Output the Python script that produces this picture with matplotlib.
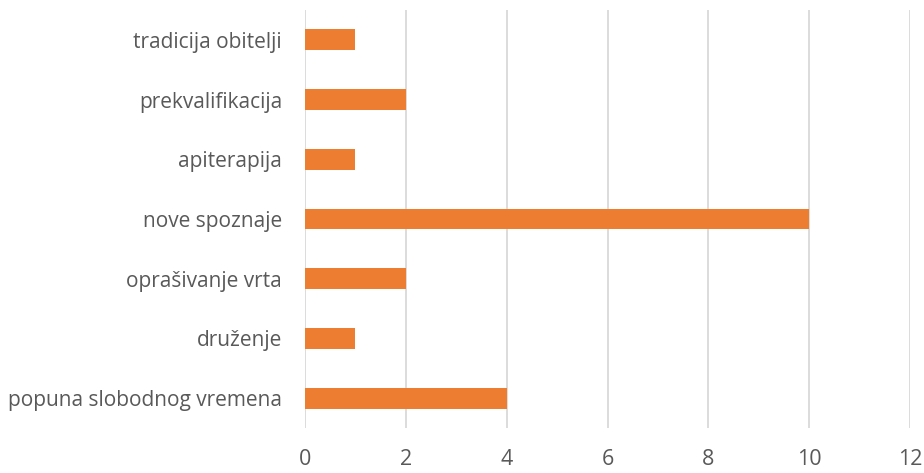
import matplotlib.pyplot as plt
import numpy as np

# Categories listed bottom to top, as drawn on the chart
CATEGORIES = [
    "popuna slobodnog vremena",
    "druženje",
    "oprašivanje vrta",
    "nove spoznaje",
    "apiterapija",
    "prekvalifikacija",
    "tradicija obitelji",
]
VALUES = [4, 1, 2, 10, 1, 2, 1]
X_TICKS = [0, 2, 4, 6, 8, 10, 12]

BAR_COLOR = "#ED7D31"
GRID_COLOR = "#D9D9D9"
TEXT_COLOR = "#595959"


def main():
    plt.rcParams.update(
        {
            "font.family": ["Open Sans", "DejaVu Sans"],
            "font.size": 15,
        }
    )

    fig = plt.figure(figsize=(9.24, 4.73), dpi=100)
    ax = fig.add_axes([0.330, 0.095, 0.655, 0.884])

    y = np.arange(len(CATEGORIES))
    ax.barh(y, VALUES, height=0.35, color=BAR_COLOR, zorder=3)

    ax.set_xlim(0, 12)
    ax.set_ylim(-0.5, len(CATEGORIES) - 0.5)
    ax.set_xticks(X_TICKS)
    ax.set_xticklabels([str(t) for t in X_TICKS])
    ax.set_yticks(y)
    ax.set_yticklabels(CATEGORIES)

    ax.grid(axis="x", color=GRID_COLOR, linewidth=1.3, zorder=0)
    for side in ["top", "right", "bottom", "left"]:
        ax.spines[side].set_visible(False)

    ax.tick_params(axis="x", length=0, pad=15, colors=TEXT_COLOR, labelsize=15.5)
    ax.tick_params(axis="y", length=0, pad=16.5, colors=TEXT_COLOR, labelsize=15)

    fig.savefig("out.png", dpi=100)
    plt.close(fig)


if __name__ == "__main__":
    main()
